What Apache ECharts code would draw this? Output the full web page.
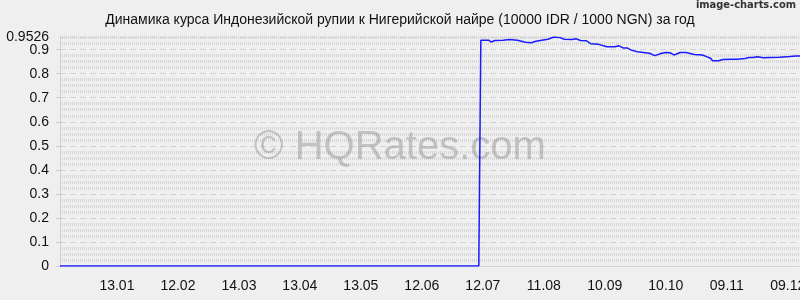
<!DOCTYPE html>
<html>
<head>
<meta charset="utf-8">
<script src="https://cdn.jsdelivr.net/npm/echarts@6/dist/echarts.min.js"></script>
<style>
html,body{margin:0;padding:0;background:#efefef;}
#chart{width:800px;height:300px;}
</style>
</head>
<body>
<div id="chart"></div>
<script>
// Period: 16.12.2024 - 15.12.2025 (daily categories)
var startDate = [2024, 11, 16];
var dayCount = 365;

var sampleDates = [
  "16.12","10.07","11.07","15.07","16.07","18.07","22.07","25.07","29.07",
  "02.08","05.08","07.08","13.08","16.08","19.08","21.08","25.08","27.08","29.08",
  "01.09","03.09","07.09","11.09","15.09","17.09","19.09","21.09","23.09","26.09","30.09",
  "02.10","04.10","05.10","08.10","10.10","12.10","14.10","15.10","17.10","20.10","22.10","24.10","28.10","30.10",
  "01.11","02.11","05.11","07.11","11.11","14.11","18.11","20.11","22.11","24.11","27.11","30.11",
  "05.12","10.12","13.12","15.12"
];
var sampleValues = [
  0,0,0.939,0.939,0.932,0.938,0.939,0.942,0.939,
  0.931,0.929,0.935,0.943,0.9526,0.950,0.943,0.942,0.945,0.938,
  0.937,0.925,0.922,0.912,0.912,0.916,0.907,0.907,0.898,0.891,0.887,
  0.885,0.877,0.876,0.885,0.888,0.887,0.878,0.881,0.888,0.888,0.884,0.880,0.878,0.871,
  0.864,0.854,0.854,0.859,0.860,0.860,0.863,0.867,0.867,0.870,0.866,0.867,
  0.868,0.871,0.874,0.874
];

// Y axis ticks
var yMin = 0, yMax = 0.9526, yStep = 0.1;

var titleText = "Динамика курса Индонезийской рупии к Нигерийской найре (10000 IDR / 1000 NGN) за год";
var watermarkText = "© HQRates.com";
var creditText = "image-charts.com";

function pad(n){ return (n < 10 ? "0" : "") + n; }
var categories = [];
for (var i = 0; i < dayCount; i++) {
  var d = new Date(Date.UTC(startDate[0], startDate[1], startDate[2] + i));
  categories.push(pad(d.getUTCDate()) + "." + pad(d.getUTCMonth() + 1));
}
var seriesData = sampleDates.map(function(s, i){ return [s, sampleValues[i]]; });

var labelFont = {fontSize: 14, color: '#111', fontFamily: 'Liberation Sans'};

var chart = echarts.init(document.getElementById('chart'), null, {renderer: 'canvas'});
chart.setOption({
  backgroundColor: '#efefef',
  animation: false,
  textStyle: {fontFamily: 'Liberation Sans, Arial, sans-serif'},
  title: {
    text: titleText,
    left: 'center',
    top: 8,
    textStyle: {fontSize: 14, fontWeight: 'normal', color: '#111', fontFamily: 'Liberation Sans'}
  },
  grid: {left: 60, right: 0, top: 37, bottom: 34, containLabel: false, outerBoundsMode: 'none'},
  xAxis: {
    type: 'category',
    data: categories,
    boundaryGap: false,
    offset: 10,
    axisLine: {show: true, lineStyle: {color: '#cfcfcf', type: [1, 1], width: 1}},
    axisTick: {show: false},
    axisLabel: Object.assign({
      interval: function(idx){ return idx % 30 === 28; },
      margin: 3, hideOverlap: false
    }, labelFont),
    splitLine: {show: false}
  },
  yAxis: [{
    type: 'value',
    min: yMin, max: yMax, interval: yStep,
    axisLine: {show: true, lineStyle: {color: '#c8c8c8', type: [1, 1], width: 1}},
    axisTick: {show: true, length: 5, lineStyle: {color: '#cccccc', type: 'dashed'}},
    axisLabel: Object.assign({margin: 11, showMaxLabel: false, showMinLabel: true},
      labelFont),
    splitLine: {show: true, lineStyle: {color: '#d2d2d2', type: [6, 4], width: 1}},
    minorTick: {show: false, splitNumber: 4},
    minorSplitLine: {show: true, lineStyle: {color: '#d6d6d6', type: [1, 1], width: 3}}
  }, {
    type: 'value',
    position: 'left',
    min: yMin, max: yMax, interval: yMax,
    axisLine: {show: false},
    axisTick: {show: false},
    splitLine: {show: false},
    axisLabel: Object.assign({margin: 11, showMinLabel: false, showMaxLabel: true,
      formatter: function(v){ return v === yMax ? String(yMax) : ''; }}, labelFont)
  }],
  graphic: [
    {type: 'text', left: 'center', top: 128, z: 1, silent: true,
      style: {text: watermarkText, fontSize: 40, fontFamily: 'Liberation Sans', fill: 'rgba(140,140,140,0.45)'}},
    {type: 'text', right: 4, top: 0, z: 1,
      style: {text: creditText, fontSize: 11, fontFamily: 'Liberation Sans Narrow, DejaVu Sans Condensed', fontWeight: 'bold', fill: '#333'}}
  ],
  series: [{
    type: 'line',
    data: seriesData,
    yAxisIndex: 0,
    showSymbol: false,
    symbol: 'none',
    z: 3,
    lineStyle: {color: '#1a1aff', width: 1.5},
    itemStyle: {color: '#1a1aff'}
  }]
});
</script>
</body>
</html>
